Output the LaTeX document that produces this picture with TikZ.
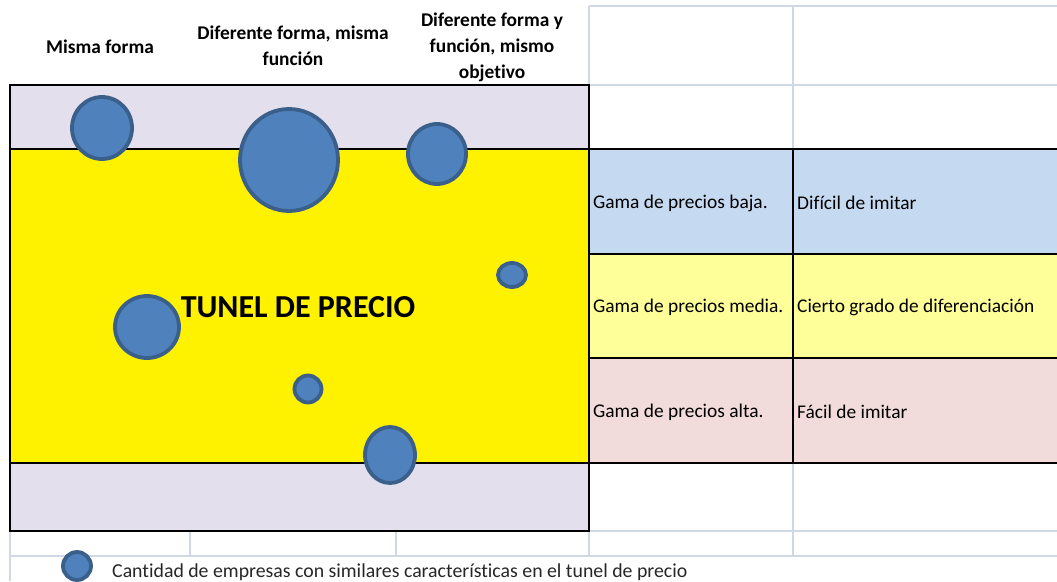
\documentclass[tikz,border=0pt]{standalone}
\usepackage{fontspec}
\setmainfont{Carlito}[Ligatures=NoCommon]
\usetikzlibrary{shapes.geometric}
\definecolor{gridgray}{HTML}{D0D7E5}
\definecolor{lav}{HTML}{E4DFEC}
\definecolor{bubblefill}{HTML}{4F81BD}
\definecolor{bubbleline}{HTML}{3A5F8B}
\definecolor{lowc}{HTML}{C5D9F1}
\definecolor{midc}{HTML}{FFFF99}
\definecolor{highc}{HTML}{F2DCDB}
\tikzstyle{bubble} = [ellipse, fill=bubblefill, draw=bubbleline, line width=3.8pt, inner sep=0pt]
\tikzstyle{head} = [align=center, font=\fontsize{19.4}{26}\selectfont\bfseries]
\tikzstyle{cell} = [anchor=west, inner sep=0pt, font=\fontsize{19.4}{23}\selectfont]
\tikzstyle{gridline} = [draw=gridgray, line width=1.3pt]

\begin{document}
\begin{tikzpicture}[x=1pt,y=-1pt]
\useasboundingbox (0,0) rectangle (1057,581);
%Sheet grid
\draw[gridline] (589,6) -- (1057,6);
\draw[gridline] (589,85) -- (1057,85);
\draw[gridline] (589,6) -- (589,85);
\draw[gridline] (793,6) -- (793,149);
\draw[gridline] (793,463) -- (793,556);
\draw[gridline] (589,531) -- (1057,531);
\draw[gridline] (10,556) -- (1057,556);
\draw[gridline] (10,531) -- (10,581);
\foreach \x in {190,396,589}
  \draw[gridline] (\x,531) -- (\x,556);

%Tunnel box
\fill[lav] (10,85) rectangle (589,531);
\fill[yellow] (10,149) rectangle (589,463);
\fill[lowc] (589,149) rectangle (1060,254);
\fill[midc] (589,254) rectangle (1060,358);
\fill[highc] (589,358) rectangle (1060,463);
\draw[line width=2.2pt] (10,85) rectangle (589,531);
\draw[line width=2.2pt] (10,149) -- (1060,149);
\draw[line width=2.2pt] (589,254) -- (1060,254);
\draw[line width=2.2pt] (589,358) -- (1060,358);
\draw[line width=2.2pt] (10,463) -- (1060,463);
\draw[line width=2.2pt] (793,149) -- (793,463);

%Companies
\node[bubble, minimum width=60, minimum height=62] (b1) at (102,128) {};
\node[bubble, minimum width=98, minimum height=102] (b2) at (289,160) {};
\node[bubble, minimum width=58, minimum height=60] (b3) at (437,154) {};
\node[bubble, minimum width=28, minimum height=24] (b4) at (512,275) {};
\node[bubble, minimum width=64, minimum height=62] (b5) at (147,327) {};
\node[bubble, minimum width=27, minimum height=27] (b6) at (308,389) {};
\node[bubble, minimum width=50, minimum height=56] (b7) at (390,455) {};

\node[font=\fontsize{32}{36}\selectfont\bfseries, inner sep=0pt] (tunel) at (298,307) {TUNEL DE PRECIO};

%Headers
\node[head] (h1) at (100,47) {Misma forma};
\node[head] (h2) at (293,46) {Diferente forma, misma\\funci\'on};
\node[head] (h3) at (492,47) {Diferente forma y\\funci\'on, mismo\\objetivo};

%Price ranges
\node[cell] (low) at (593,203) {Gama de precios baja.};
\node[cell] (lowtxt) at (797,203) {Difícil de imitar};
\node[cell] (mid) at (593,307) {Gama de precios media.};
\node[cell] (midtxt) at (797,307) {Cierto grado de diferenciación};
\node[cell] (high) at (593,412) {Gama de precios alta.};
\node[cell] (hightxt) at (797,412) {Fácil de imitar};

%Legend
\node[bubble, minimum width=28, minimum height=28] (key) at (77,566) {};
\node[cell, font=\fontsize{19.8}{23}\selectfont, text=black!85] (keytxt) at (112,572) {Cantidad de empresas con similares características en el tunel de precio};
\end{tikzpicture}
\end{document}
